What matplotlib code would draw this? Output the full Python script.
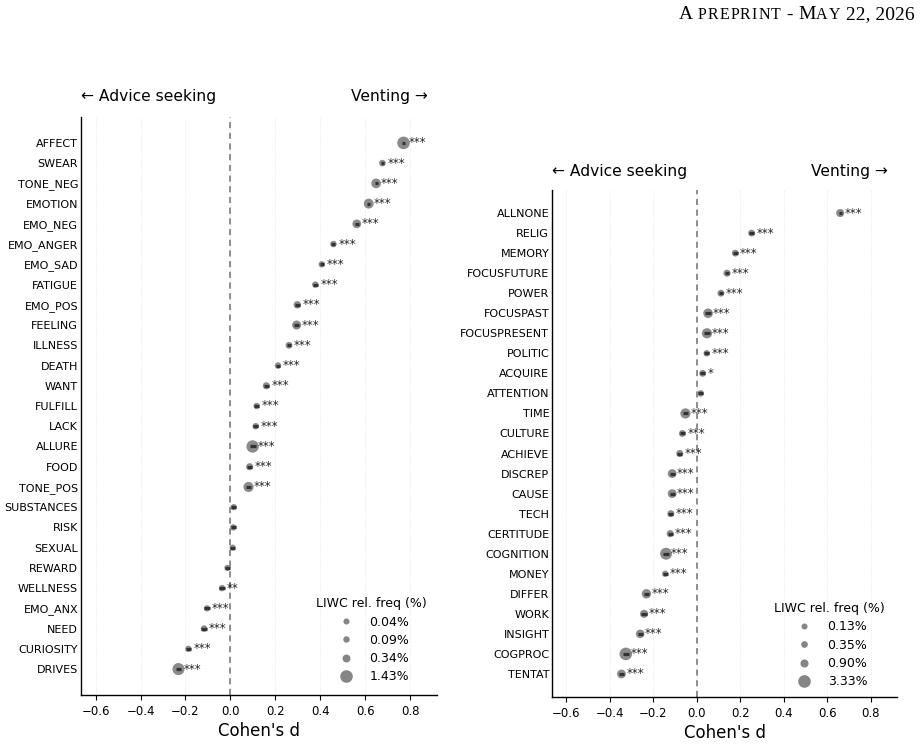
import matplotlib
matplotlib.use("Agg")
import matplotlib.pyplot as plt
from matplotlib.lines import Line2D
import numpy as np

# left panel: LIWC categories, effect sizes, CI half-widths, frequencies, stars
left_cats = ["AFFECT", "SWEAR", "TONE_NEG", "EMOTION", "EMO_NEG", "EMO_ANGER",
             "EMO_SAD", "FATIGUE", "EMO_POS", "FEELING", "ILLNESS", "DEATH",
             "WANT", "FULFILL", "LACK", "ALLURE", "FOOD", "TONE_POS",
             "SUBSTANCES", "RISK", "SEXUAL", "REWARD", "WELLNESS", "EMO_ANX",
             "NEED", "CURIOSITY", "DRIVES"]
left_d = [0.771, 0.677, 0.649, 0.616, 0.563, 0.459, 0.407, 0.378, 0.298,
          0.295, 0.261, 0.212, 0.160, 0.117, 0.113, 0.099, 0.086, 0.081,
          0.015, 0.013, 0.010, -0.013, -0.037, -0.104, -0.117, -0.187, -0.231]
left_ci = [0.005, 0.007, 0.007, 0.006, 0.008, 0.009, 0.009, 0.010, 0.011,
           0.012, 0.010, 0.011, 0.012, 0.012, 0.012, 0.013, 0.012, 0.013,
           0.012, 0.012, 0.012, 0.012, 0.012, 0.012, 0.012, 0.012, 0.013]
left_freq = [1.43, 0.12, 0.70, 0.75, 0.50, 0.10, 0.09, 0.08, 0.25,
             0.55, 0.15, 0.10, 0.20, 0.09, 0.10, 1.38, 0.20, 0.80,
             0.08, 0.09, 0.06, 0.06, 0.08, 0.07, 0.12, 0.09, 1.30]
left_stars = ["***"] * 18 + ["", "", "", "", "**", "***", "***", "***", "***"]
left_legend = [0.04, 0.09, 0.34, 1.43]

# right panel
right_cats = ["ALLNONE", "RELIG", "MEMORY", "FOCUSFUTURE", "POWER", "FOCUSPAST",
              "FOCUSPRESENT", "POLITIC", "ACQUIRE", "ATTENTION", "TIME",
              "CULTURE", "ACHIEVE", "DISCREP", "CAUSE", "TECH", "CERTITUDE",
              "COGNITION", "MONEY", "DIFFER", "WORK", "INSIGHT", "COGPROC",
              "TENTAT"]
right_d = [0.659, 0.252, 0.177, 0.139, 0.111, 0.052, 0.047, 0.046, 0.027,
           0.018, -0.052, -0.066, -0.078, -0.113, -0.113, -0.119, -0.122,
           -0.141, -0.145, -0.231, -0.242, -0.260, -0.326, -0.346]
right_ci = [0.007, 0.011, 0.011, 0.011, 0.011, 0.012, 0.013, 0.011, 0.011,
            0.011, 0.012, 0.011, 0.011, 0.012, 0.012, 0.011, 0.011,
            0.012, 0.011, 0.012, 0.012, 0.012, 0.013, 0.012]
right_freq = [0.90, 0.40, 0.40, 0.50, 0.40, 1.60, 1.90, 0.25, 0.40,
              0.30, 1.90, 0.40, 0.50, 1.20, 1.20, 0.45, 0.50,
              2.90, 0.20, 1.50, 0.90, 1.10, 3.33, 1.20]
right_stars = ["***"] * 8 + ["*", ""] + ["***"] * 14
right_legend = [0.13, 0.35, 0.90, 3.33]

xticks = [-0.6, -0.4, -0.2, 0.0, 0.2, 0.4, 0.6, 0.8]

# running header: (text, is_small_caps)
header_parts = [("A", False), (" ", False), ("PREPRINT", True), (" - ", False),
                ("M", False), ("AY", True), (" 22, 2026", False)]

GREY = "#858585"
DARK = "#333333"
SIZES = (19, 82)


def marker_area(f, fmin, fmax):
    return SIZES[0] + (np.asarray(f) - fmin) / (fmax - fmin) * (SIZES[1] - SIZES[0])


def panel(ax, cats, d, ci, freq, stars, legend_vals, pad, leg_anchor):
    n = len(cats)
    y = np.arange(n)
    fmin, fmax = legend_vals[0], legend_vals[-1]

    for t in xticks:
        ax.axvline(t, color="#e4e4e4", lw=0.6, ls=":", zorder=0)
    ax.axvline(0, color="#707070", lw=1.1, ls=(0, (4, 3)), zorder=1)

    ax.scatter(d, y, s=marker_area(freq, fmin, fmax), color=GREY, alpha=0.95,
               edgecolors="none", zorder=2)
    d_arr = np.asarray(d)
    ci_arr = np.asarray(ci)
    ax.hlines(y, d_arr - ci_arr, d_arr + ci_arr, color=DARK, lw=2.3, zorder=3)

    for yi, xi, st in zip(y, d, stars):
        if st:
            ax.text(xi + 0.022, yi, st, fontsize=8.5, ha="left", va="center",
                    color="#222222", zorder=4)

    ax.set_xlim(-0.665, 0.92)
    ax.set_ylim(n - 1 + pad, -pad)
    ax.set_yticks(y)
    ax.set_yticklabels(cats, fontsize=8)
    ax.set_xticks(xticks)
    ax.set_xticklabels([f"{t:.1f}".replace("-", "\u2212") for t in xticks], fontsize=8.5)
    ax.tick_params(axis="y", length=0, pad=2)
    ax.tick_params(axis="x", length=3.5, width=0.8)
    ax.set_xlabel("Cohen's d", fontsize=12, labelpad=3)
    for s in ("top", "right"):
        ax.spines[s].set_visible(False)
    ax.spines["left"].set_linewidth(1.0)
    ax.spines["bottom"].set_linewidth(1.0)

    handles = [Line2D([], [], marker="o", ls="none", color=GREY,
                      markeredgewidth=0,
                      markersize=np.sqrt(marker_area(v, fmin, fmax)))
               for v in legend_vals]
    labels = [f"{v:.2f}%" for v in legend_vals]
    leg = ax.legend(handles, labels, title="LIWC rel. freq (%)", loc="lower right",
                    bbox_to_anchor=leg_anchor, frameon=False, fontsize=9,
                    title_fontsize=9, labelspacing=0.42, handletextpad=0.9,
                    borderpad=0.2)
    leg._legend_box.align = "center"

    ax.text(-0.665, 1.022, "\u2190 Advice seeking", transform=ax.get_xaxis_transform(),
            fontsize=11.2, ha="left", va="bottom")
    ax.text(0.88, 1.022, "Venting \u2192", transform=ax.get_xaxis_transform(),
            fontsize=11.2, ha="right", va="bottom")


def text_advance(t, renderer):
    # width of a string including spaces, measured between two guard letters
    txt = t.get_text()
    t.set_text("x" + txt + "x")
    full = t.get_window_extent(renderer).width
    t.set_text("xx")
    guards = t.get_window_extent(renderer).width
    t.set_text(txt)
    return full - guards


def draw_header(fig, right_px, baseline_px, big=14.0, small=11.5, track=1.2):
    renderer = fig.canvas.get_renderer()
    items = []
    for s, sc in header_parts:
        if sc:
            items += [(ch, small, track) for ch in s]
        else:
            items.append((s, big, 0.0))
    texts, widths = [], []
    for s, fs, tr in items:
        t = fig.text(0, 1 - baseline_px / 745, s, fontsize=fs,
                     family="Liberation Serif", ha="left", va="baseline")
        texts.append(t)
        widths.append(text_advance(t, renderer) + tr)
    x = right_px - sum(widths)
    for t, w in zip(texts, widths):
        t.set_x(x / 924)
        x += w


def main() -> None:
    fig = plt.figure(figsize=(9.24, 7.45), dpi=100)
    ax1 = fig.add_axes([81 / 924, 50 / 745, 356 / 924, 578 / 745])
    ax2 = fig.add_axes([552 / 924, 48 / 745, 345 / 924, 507 / 745])

    panel(ax1, left_cats, left_d, left_ci, left_freq, left_stars, left_legend,
          1.28, (0.995, 0.005))
    panel(ax2, right_cats, right_d, right_ci, right_freq, right_stars, right_legend,
          1.15, (0.99, 0.0))

    draw_header(fig, 915, 19)

    fig.savefig("out.png", dpi=100)
    plt.close(fig)


if __name__ == "__main__":
    main()
